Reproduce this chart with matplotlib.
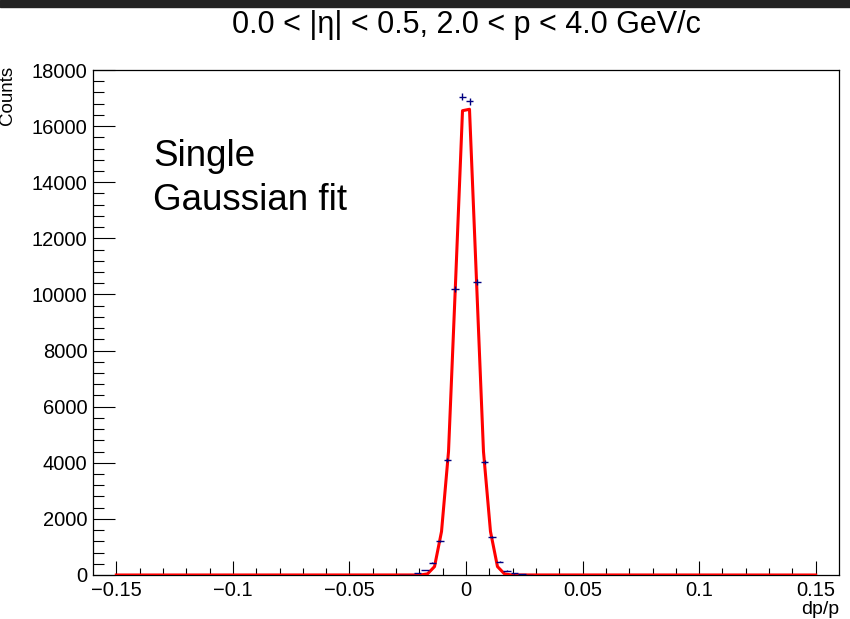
import matplotlib.pyplot as plt
import matplotlib.patches as patches
import numpy as np

# histogram bins with entries (dp/p), bin width 0.0032
bin_centers = [-0.0272, -0.0240, -0.0208, -0.0176, -0.0144, -0.0112, -0.0080, -0.0048, -0.0016,
               0.0016, 0.0048, 0.0080, 0.0112, 0.0144, 0.0176, 0.0208, 0.0240, 0.0272]
counts = [5, 10, 70, 180, 440, 1200, 4100, 10200, 17050,
          16880, 10450, 4020, 1360, 470, 160, 60, 20, 8]
bin_width = 0.0032

# single gaussian fit, drawn as polyline
fit_x = [-0.15, -0.0195, -0.0165, -0.0135, -0.0105, -0.0075, -0.0045, -0.0015,
         0.0015, 0.0045, 0.0075, 0.0105, 0.0135, 0.0165, 0.0195, 0.15]
fit_y = [0, 2, 40, 300, 1550, 4400, 10400, 16550,
         16600, 10500, 4400, 1550, 300, 40, 2, 0]

xticks = [-0.15, -0.1, -0.05, 0, 0.05, 0.1, 0.15]
xticklabels = ['\u22120.15', '\u22120.1', '\u22120.05', '0', '0.05', '0.1', '0.15']
yticks = [0, 2000, 4000, 6000, 8000, 10000, 12000, 14000, 16000, 18000]

plt.rcParams['font.family'] = ['Liberation Sans', 'DejaVu Sans']

fig = plt.figure(figsize=(8.5, 6.19), dpi=100)
fig.patches.append(patches.Rectangle((0, 1 - 7/619.), 1, 7/619., transform=fig.transFigure,
                                     color='#222222', zorder=0))
ax = fig.add_axes([93/850., 1 - 575/619., (839 - 93)/850., (575 - 70)/619.])

ax.plot(fit_x, fit_y, color='#ff0000', lw=2.2, zorder=3)
ax.errorbar(bin_centers, counts, xerr=bin_width/2, yerr=np.sqrt(counts), fmt='none',
            ecolor='#000080', elinewidth=1.0, capsize=0, zorder=4)

ax.set_xlim(-0.16, 0.16)
ax.set_ylim(0, 18000)
ax.set_xticks(xticks)
ax.set_xticklabels(xticklabels)
ax.set_xticks(np.arange(-0.15, 0.1501, 0.01), minor=True)
ax.set_yticks(yticks)
ax.set_yticks(np.arange(0, 18001, 400), minor=True)

ax.tick_params(axis='x', which='major', direction='in', length=10, width=0.8, labelsize=14.5, pad=4)
ax.tick_params(axis='x', which='minor', direction='in', length=5, width=0.8)
ax.tick_params(axis='y', which='major', direction='in', length=16, width=0.8, labelsize=14.5, pad=4)
ax.tick_params(axis='y', which='minor', direction='in', length=8, width=0.8)
for s in ax.spines.values():
    s.set_linewidth(0.9)

# text block, baseline of last line
fig.text(153/850., 1 - 210/619., 'Single\nGaussian fit', fontsize=26.5,
         ha='left', va='baseline', linespacing=1.32)

fig.text(466/850., 1 - 25/619., '0.0 < |\u03b7| < 0.5, 2.0 < p < 4.0 GeV/c', fontsize=22,
         ha='center', va='center')
fig.text(839/850., 1 - 618/619., 'dp/p', fontsize=14, ha='right', va='bottom')
fig.text(8/850., 1 - 66/619., 'Counts', fontsize=13.5, rotation=90, ha='center', va='top')

plt.savefig('out.png', dpi=100)
